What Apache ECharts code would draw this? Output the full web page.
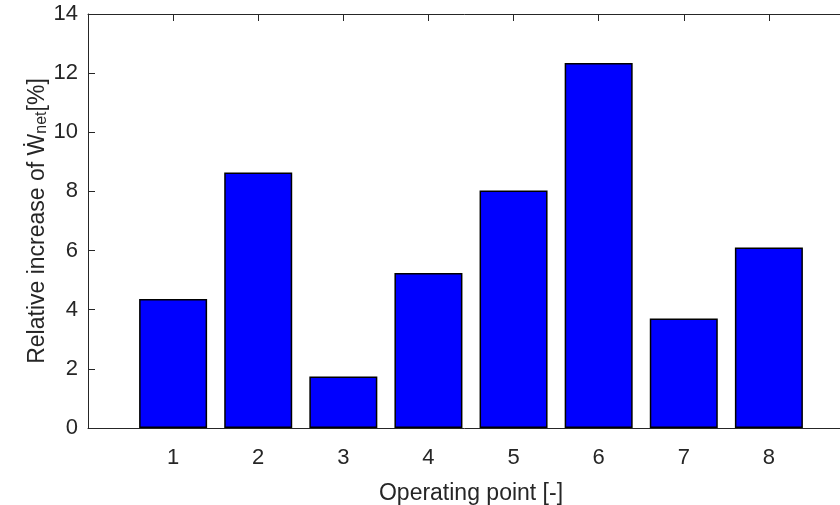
<!DOCTYPE html>
<html>
<head>
<meta charset="UTF-8">
<title>Relative increase</title>
<script src="https://cdn.jsdelivr.net/npm/echarts@6/dist/echarts.min.js"></script>
<style>
  html, body { margin: 0; padding: 0; background: #fff; }
  #chart { width: 840px; height: 505px; }
</style>
</head>
<body>
<div id="chart"></div>
<script>
// operating points and relative increase of W_net [%]
var points = [1, 2, 3, 4, 5, 6, 7, 8];
var increase = [4.36, 8.64, 1.74, 5.24, 8.03, 12.34, 3.70, 6.10];
var yTicks = [0, 2, 4, 6, 8, 10, 12, 14];

var font = 'Liberation Sans, Arial, Helvetica, sans-serif';
var chart = echarts.init(document.getElementById('chart'));

var barData = points.map(function (p, i) { return [p, increase[i]]; });

var tickStyle = { show: true, inside: true, length: 7, lineStyle: { color: '#262626', width: 1 } };
var lineStyle = { color: '#262626', width: 1 };

chart.setOption({
  animation: false,
  grid: { left: 88, top: 14, width: 766, height: 414, containLabel: false, outerBoundsMode: 'none' },
  xAxis: [{
    type: 'value',
    min: 0, max: 9, interval: 1,
    position: 'bottom',
    name: 'Operating point [-]',
    nameLocation: 'middle',
    nameGap: 54,
    nameMoveOverlap: false,
    nameTextStyle: { fontFamily: font, fontSize: 23, color: '#262626' },
    axisLine: { show: true, lineStyle: lineStyle },
    axisTick: tickStyle,
    splitLine: { show: false },
    axisLabel: {
      fontFamily: font, fontSize: 22, color: '#262626', margin: 19,
      formatter: function (v) { return points.indexOf(v) >= 0 ? String(v) : ''; }
    }
  }, {
    type: 'value',
    min: 0, max: 9, interval: 1,
    position: 'top',
    axisLine: { show: true, lineStyle: lineStyle },
    axisTick: tickStyle,
    axisLabel: { show: false },
    splitLine: { show: false }
  }],
  yAxis: {
    type: 'value',
    min: 0, max: 14, interval: 2,
    name: 'Relative increase of {w|Ẇ}{sub|net}[%]',
    nameLocation: 'middle',
    nameRotate: 90,
    nameGap: 38,
    nameMoveOverlap: false,
    nameTextStyle: {
      fontFamily: font, fontSize: 23, color: '#262626',
      rich: {
        w: { fontFamily: font, fontSize: 23, color: '#262626' },
        sub: { fontFamily: font, fontSize: 16, color: '#262626', verticalAlign: 'bottom', padding: [8, 0, 0, 0] }
      }
    },
    axisLine: { show: true, lineStyle: lineStyle },
    axisTick: tickStyle,
    splitLine: { show: false },
    axisLabel: {
      fontFamily: font, fontSize: 22, color: '#262626', margin: 10,
      formatter: function (v) { return yTicks.indexOf(v) >= 0 ? String(v) : ''; }
    }
  },
  series: [{
    type: 'bar',
    data: barData,
    barWidth: 68,
    itemStyle: { color: '#0000ff', borderColor: '#000', borderWidth: 1.5 }
  }]
});
</script>
</body>
</html>
